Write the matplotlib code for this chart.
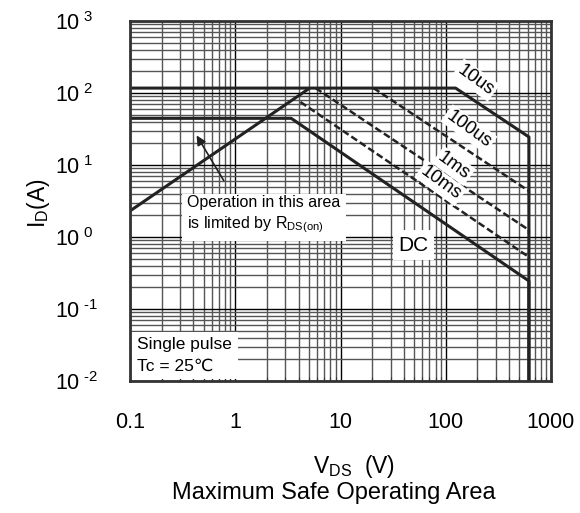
import numpy as np
import matplotlib
matplotlib.use("Agg")
import matplotlib.pyplot as plt
from matplotlib.ticker import LogLocator, NullFormatter

plt.rcParams['font.family'] = ['Liberation Sans', 'DejaVu Sans']
plt.rcParams['mathtext.fontset'] = 'custom'
plt.rcParams['mathtext.rm'] = 'Liberation Sans'
plt.rcParams['mathtext.it'] = 'Liberation Sans'

# curvas de area segura (VDS en V, ID en A)
vds_rds = [0.1, 5.1]
id_rds = [2.3, 117]

vds_10us = [0.1, 124, 617, 617]
id_10us = [117, 117, 24.5, 0.01]

vds_dc = [0.1, 3.4, 617, 617]
id_dc = [44.5, 44.5, 0.245, 0.01]

vds_100us = [20.6, 617, 617]
id_100us = [117, 4.35, 3.9]

vds_1ms = [5.8, 617, 617]
id_1ms = [117, 1.25, 1.1]

vds_10ms = [4.16, 617, 617]
id_10ms = [75, 0.527, 0.47]

xticks = [0.1, 1, 10, 100, 1000]
xlabels = ['0.1', '1', '10', '100', '1000']
yticks = [0.01, 0.1, 1, 10, 100, 1000]
ylabels = ['-2', '-1', '0', '1', '2', '3']

negro = '#222222'

fig = plt.figure(figsize=(5.8, 5.13), dpi=100)
ax = fig.add_axes([130/580, 132/513, 421/580, 360/513])
ax.set_xscale('log')
ax.set_yscale('log')
ax.set_xlim(0.1, 1000)
ax.set_ylim(0.01, 1000)

# rejilla
ax.xaxis.set_minor_locator(LogLocator(base=10, subs=np.arange(2, 10), numticks=20))
ax.yaxis.set_minor_locator(LogLocator(base=10, subs=np.arange(2, 10), numticks=20))
ax.xaxis.set_minor_formatter(NullFormatter())
ax.yaxis.set_minor_formatter(NullFormatter())
ax.grid(which='major', color='black', lw=1.0)
ax.grid(which='minor', color='#555555', lw=1.0)
ax.set_axisbelow(True)

ax.set_xticks(xticks)
ax.set_xticklabels(xlabels, fontsize=15.5)
ax.set_yticks(yticks)
ax.set_yticklabels([r'$\mathregular{10^{\ \text{%s}}}$' % e for e in ylabels], fontsize=15.5,
                   ha='left')
ax.tick_params(which='both', direction='in', length=0, pad=22)
ax.tick_params(axis='y', pad=54)
ax.tick_params(which='minor', axis='x', length=3, width=0.8, color='#333333')
for s in ax.spines.values():
    s.set_linewidth(2)
    s.set_color('#333333')

# lineas
ax.plot(vds_rds, id_rds, color=negro, lw=2.2, solid_capstyle='butt')
ax.plot(vds_10us, id_10us, color=negro, lw=2.2)
ax.plot(vds_dc, id_dc, color=negro, lw=2.2)
for xs, ys in [(vds_100us, id_100us), (vds_1ms, id_1ms), (vds_10ms, id_10ms)]:
    ax.plot(xs, ys, color=negro, lw=1.8, linestyle=(0, (2.8, 1.3)))

caja = dict(facecolor='white', edgecolor='none', pad=1.5)
ax.text(193, 151, '10us', fontsize=13.5, rotation=-36, ha='center', va='center', bbox=caja)
ax.text(166, 31.6, '100us', fontsize=13.5, rotation=-36, ha='center', va='center', bbox=caja)
ax.text(119, 9.7, '1ms', fontsize=13.5, rotation=-36, ha='center', va='center', bbox=caja)
ax.text(89.6, 5.6, '10ms', fontsize=13.5, rotation=-36, ha='center', va='center', bbox=caja)
ax.text(49.6, 0.774, 'DC', fontsize=15, ha='center', va='center',
        bbox=dict(facecolor='white', edgecolor='none', pad=4))

ax.text(0.35, 2.0, 'Operation in this area\nis limited by R$_{\\mathregular{DS(on)}}$',
        fontsize=11.5, ha='left', va='center', linespacing=1.3,
        bbox=dict(facecolor='white', edgecolor='none', pad=4))
ax.annotate('', xy=(0.416, 27.8), xytext=(0.803, 5.62),
            arrowprops=dict(arrowstyle='-|>', color=negro, lw=1.2, mutation_scale=14))

ax.text(0.117, 0.0225, 'Single pulse\nTc = 25\u2103',
        fontsize=12.5, ha='left', va='center', linespacing=1.55,
        bbox=dict(facecolor='white', edgecolor='none', pad=4))

fig.text(38/580, 1 - 203/513, r'$\mathregular{I_D(A)}$', fontsize=16.5, rotation=90,
         ha='center', va='center')
fig.text(354/580, 1 - 467/513, r'$\mathregular{V_{DS}\ \ (V)}$', fontsize=16.5,
         ha='center', va='center')
fig.text(334/580, 1 - 493/513, 'Maximum Safe Operating Area', fontsize=17,
         ha='center', va='center')

fig.savefig('out.png', dpi=100)
